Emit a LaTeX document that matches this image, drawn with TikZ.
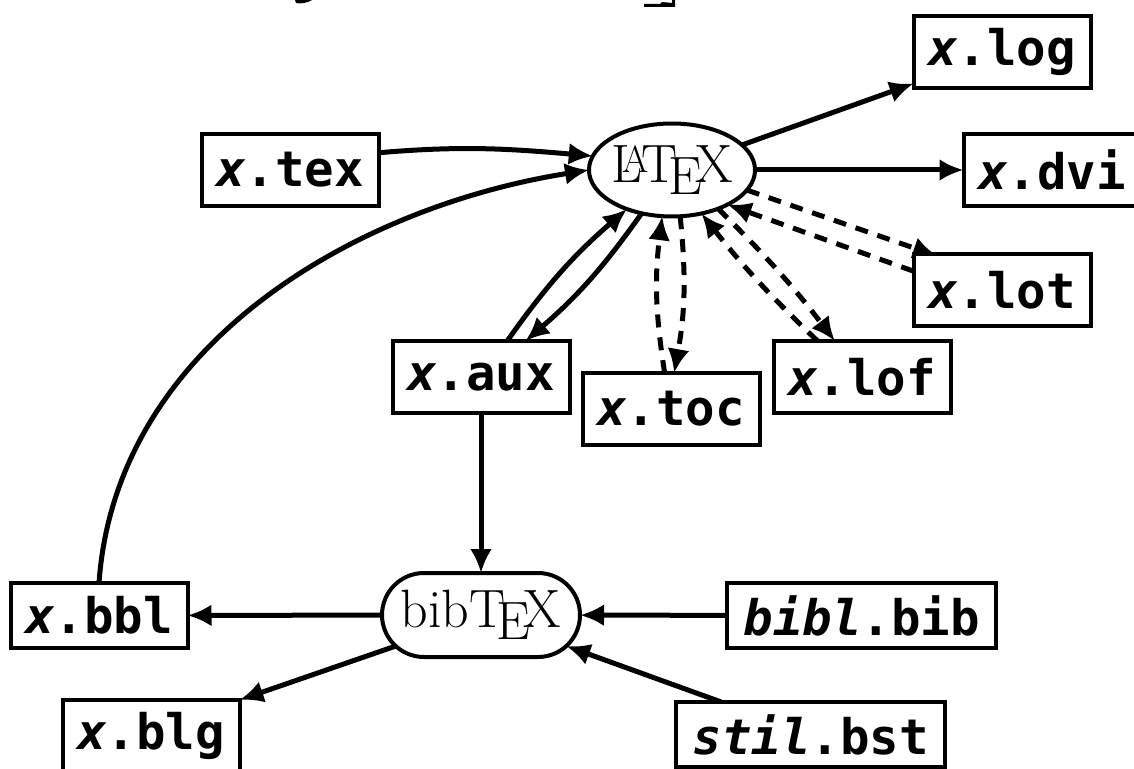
\documentclass[tikz,border=0pt]{standalone}
\usepackage{fontspec}
\setmonofont{DejaVu Sans Mono}
\usetikzlibrary{arrows.meta,backgrounds,shapes.geometric,shapes.misc}

\begin{document}
\begin{tikzpicture}[x=0.5pt,y=-0.5pt,>={Latex[length=12pt,width=11pt]},
	file node/.style={rectangle,draw,fill=white,line width=2pt,outer sep=0pt,inner sep=0pt,minimum width=88.5pt,minimum height=36pt,font=\fontsize{24.5}{28}\selectfont\ttfamily\bfseries},
	low node/.style={file node,minimum height=32.5pt},
	long node/.style={low node,minimum width=134.5pt},
	prog node/.style={draw,fill=white,line width=2pt,outer sep=0pt,inner sep=0pt,font=\fontsize{27}{30}\selectfont},
	link/.style={->,line width=2.5pt},
	dash line/.style={link,dash pattern=on 6.5pt off 5pt}]
			\useasboundingbox (0,0) rectangle (1134,769);
			
			\node[prog node,ellipse,inner xsep=-1pt,minimum height=46.5pt] (latex) at (672,170) {\LaTeX};
			\node[prog node,rounded rectangle,minimum width=99pt,minimum height=42pt] (bibtex) at (481,615) {bib\TeX};
			
			\node[file node] (log) at (1002,52) {\textit{x}.log};
			\node[file node] (tex) at (290,170) {\textit{x}.tex};
			\node[file node] (dvi) at (1052,170) {\textit{x}.dvi};
			\node[file node] (lot) at (1002,290) {\textit{x}.lot};
			\node[file node] (aux) at (481,377) {\textit{x}.aux};
			\node[file node] (toc) at (671,409) {\textit{x}.toc};
			\node[file node] (lof) at (862,377) {\textit{x}.lof};
			\node[low node] (bbl) at (99,615.5) {\textit{x}.bbl};
			\node[file node] (blg) at (151,736) {\textit{x}.blg};
			\node[long node] (bib) at (861.5,615.5) {\textit{bibl}.bib};
			\node[long node] (bst) at (810.5,734.5) {\textit{stil}.bst};
			
			\begin{pgfonlayer}{background}
			\draw[link] (latex) -- (log);
			\draw[link] (latex) -- (dvi);
			\draw[link] (tex.11) to [out=5,in=175] (latex.170);
			\draw[link] (bbl.north) to [out=86,in=189,looseness=0.95] (latex.west);
			\draw[link] (aux.54) to [bend left=7] (latex.221);
			\draw[link] (latex.235) to [bend left=7] (aux.39);
			\draw[dash line] (toc.100) to [bend left=8] (latex.258);
			\draw[dash line] (latex.280) to [bend left=8] (toc.85);
			\draw[dash line] (lof.141) to [bend left=4] (latex.304);
			\draw[dash line] (latex.320) to [bend left=4] (lof.127);
			\draw[dash line] (lot.168) to (latex.-32);
			\draw[dash line,shorten >=-3pt] (latex.-15) to (lot.153);
			\draw[link] (aux) -- (bibtex);
			\draw[link] (bibtex) -- (bbl);
			\draw[link] (bib) -- (bibtex);
			\draw[link] (bibtex.200) -- (blg.north east);
			\draw[link] (bst.160) -- (bibtex.-20);
			\end{pgfonlayer}
			
			\fill (295,0) -- (312,0) .. controls (308,3) and (300,4) .. (296,3) -- cycle;
			\fill (644,4) -- (660,4) -- (662,2) -- (672,3) -- (672,0) -- (675,0) -- (675,7) -- (644,7) -- cycle;
			\end{tikzpicture}
\end{document}
